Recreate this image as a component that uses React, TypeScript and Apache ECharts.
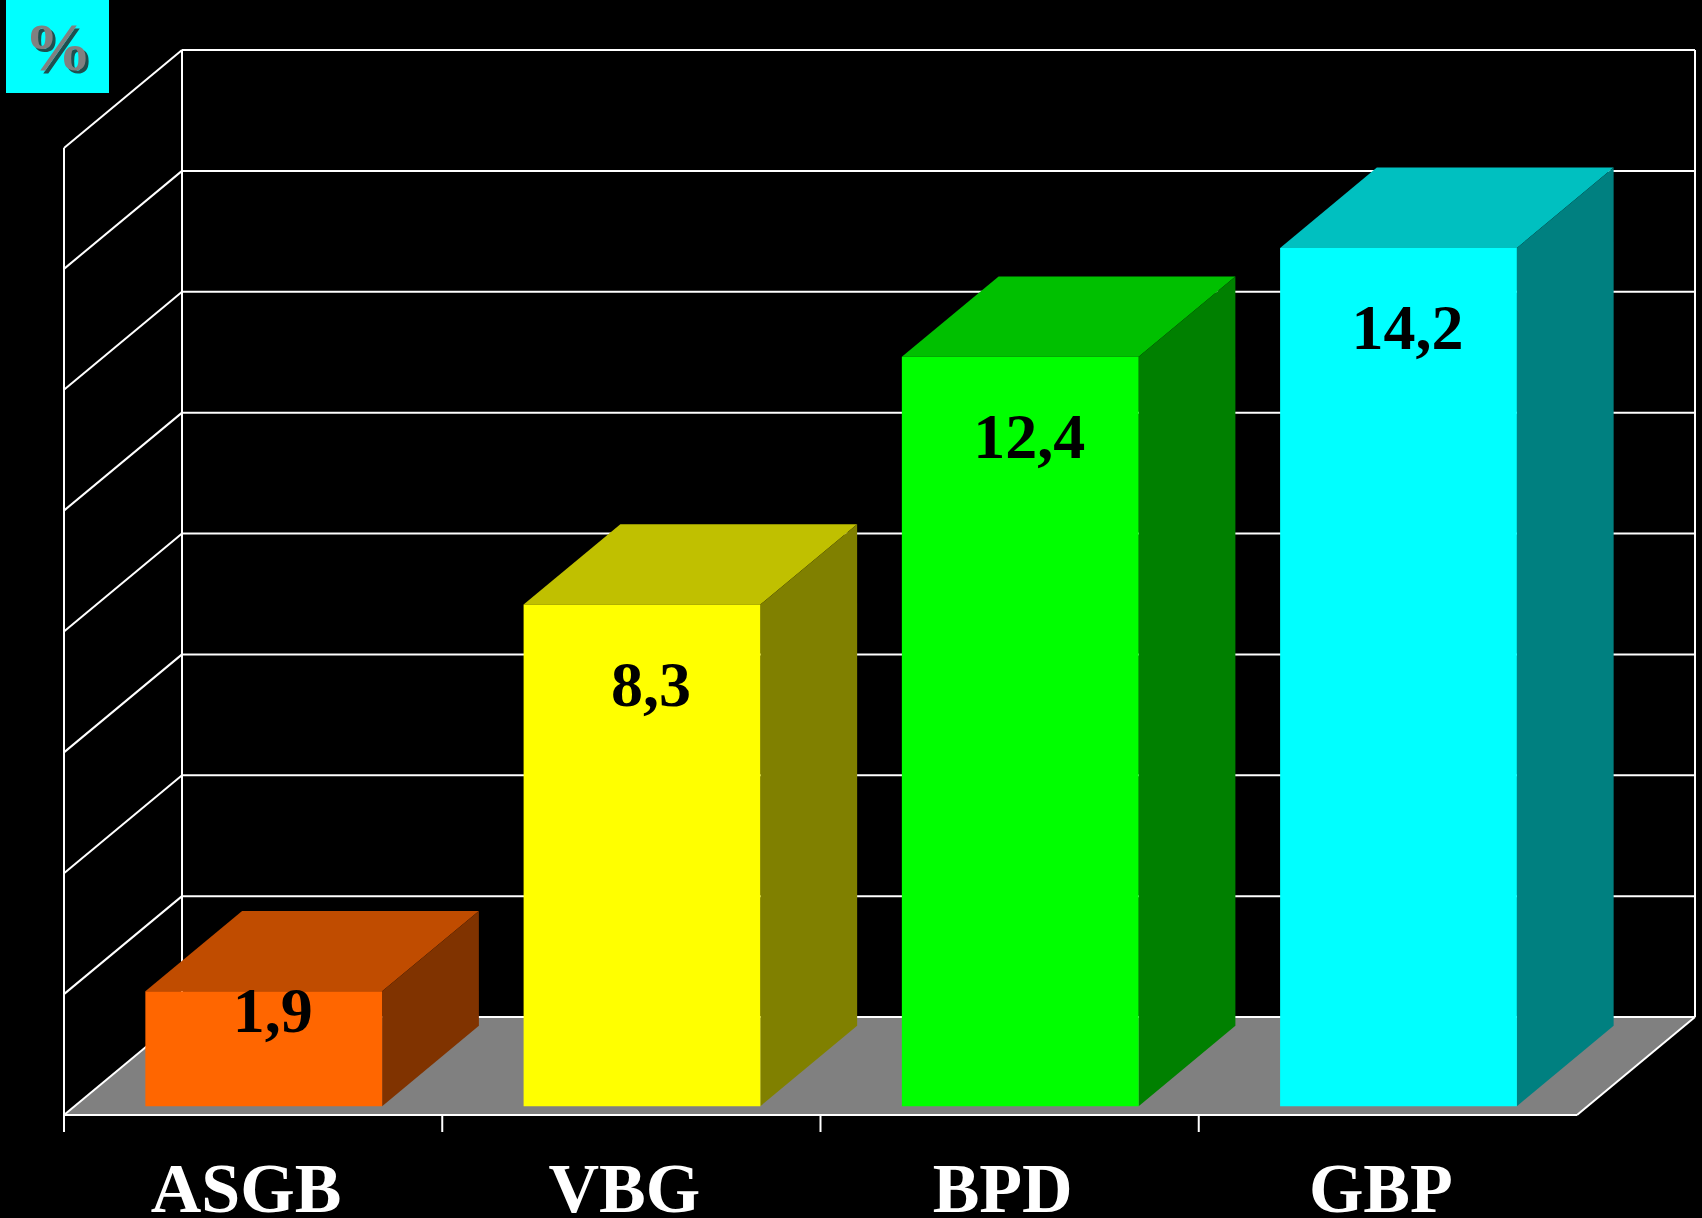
import React, { useEffect, useRef } from 'react';
import * as echarts from 'echarts';

// ---- data ----
const categories = ['ASGB', 'VBG', 'BPD', 'GBP'];
const values = [1.9, 8.3, 12.4, 14.2];
const gridValues = [0, 2, 4, 6, 8, 10, 12, 14, 16];
const frontColors = ['#FF6600', '#FFFF00', '#00FF00', '#00FFFF'];
const topColors = ['#C04C00', '#C0C000', '#00C000', '#00C0C0'];
const sideColors = ['#803300', '#808000', '#008000', '#008080'];
const unitLabel = '%';

// ---- styling constants ----
const DEPTH_X = 118;
const DEPTH_Y = -98;
const BAR_FRONT = 0.09;
const BAR_BACK = 0.91;
const BAR_WIDTH = 0.626;
const LINE = '#FFFFFF';
const LW = 2;
const SERIF = '"Liberation Serif", "Times New Roman", serif';

const fmt = (v: number) => String(v).replace('.', ',');

export default function App() {
  const ref = useRef<HTMLDivElement>(null);

  useEffect(() => {
    if (!ref.current) return;
    const chart = echarts.init(ref.current, undefined, { renderer: 'svg' });
    const lastCat = categories.length - 1;
    const yMax = gridValues[gridValues.length - 1];

    const frameBounds = (api: any) => {
      const band = api.size([1, 0])[0];
      const xl = api.coord([0, 0])[0] - band / 2;
      const xr = api.coord([lastCat, 0])[0] + band / 2;
      const y0 = api.coord([0, 0])[1];
      const yTop = api.coord([0, yMax])[1];
      return { band, xl, xr, y0, yTop };
    };
    const ln = (x1: number, y1: number, x2: number, y2: number) => ({
      type: 'line',
      shape: { x1, y1, x2, y2 },
      style: { stroke: LINE, lineWidth: LW },
    });

    const option: any = {
      animation: false,
      backgroundColor: '#000000',
      grid: { left: 64, right: 125, top: 148, bottom: 103, outerBoundsMode: 'none', containLabel: false },
      xAxis: {
        type: 'category',
        data: categories,
        boundaryGap: true,
        axisLine: { show: false },
        axisTick: { show: false },
        splitLine: { show: false },
        axisLabel: {
          interval: 0,
          color: '#FFFFFF',
          fontFamily: SERIF,
          fontWeight: 'bold',
          fontSize: 70,
          lineHeight: 50,
          margin: 48,
          padding: [0, 14, 0, 0],
        },
      },
      yAxis: {
        type: 'value',
        min: 0,
        max: yMax,
        interval: 2,
        show: false,
        splitLine: { show: false },
      },
      graphic: [
        {
          type: 'rect',
          x: 6,
          y: 0,
          shape: { width: 103, height: 93 },
          style: { fill: '#00FFFF' },
        },
        {
          type: 'text',
          x: 61,
          y: 50,
          style: {
            text: unitLabel,
            fill: '#1F4F4F',
            font: `bold 68px ${SERIF}`,
            align: 'center',
            verticalAlign: 'middle',
          },
        },
        {
          type: 'text',
          x: 58,
          y: 47,
          style: {
            text: unitLabel,
            fill: '#808080',
            font: `bold 68px ${SERIF}`,
            align: 'center',
            verticalAlign: 'middle',
          },
        },
      ],
      series: [
        {
          type: 'custom',
          name: 'floor',
          z: 1,
          silent: true,
          data: [[0, 0]],
          renderItem: (_p: any, api: any) => {
            const { xl, xr, y0 } = frameBounds(api);
            return {
              type: 'polygon',
              shape: {
                points: [
                  [xl, y0],
                  [xr, y0],
                  [xr + DEPTH_X, y0 + DEPTH_Y],
                  [xl + DEPTH_X, y0 + DEPTH_Y],
                ],
              },
              style: { fill: '#808080' },
            };
          },
        },
        {
          type: 'custom',
          name: 'walls',
          z: 2,
          silent: true,
          data: gridValues.map((v) => [0, v]),
          renderItem: (params: any, api: any) => {
            const { xl, xr, y0, yTop } = frameBounds(api);
            const y = api.coord([0, api.value(1)])[1];
            const children: any[] = [
              ln(xl + DEPTH_X, y + DEPTH_Y, xr + DEPTH_X, y + DEPTH_Y),
              ln(xl, y, xl + DEPTH_X, y + DEPTH_Y),
            ];
            if (params.dataIndex === 0) {
              children.push(
                ln(xl, yTop, xl, y0),
                ln(xl + DEPTH_X, yTop + DEPTH_Y, xl + DEPTH_X, y0 + DEPTH_Y),
                ln(xr + DEPTH_X, yTop + DEPTH_Y, xr + DEPTH_X, y0 + DEPTH_Y),
                ln(xl, y0, xr, y0),
                ln(xr, y0, xr + DEPTH_X, y0 + DEPTH_Y)
              );
            }
            return { type: 'group', children };
          },
        },
        {
          type: 'custom',
          name: 'ticks',
          z: 2,
          silent: true,
          data: categories.map((_c, i) => [i, 0]),
          renderItem: (_p: any, api: any) => {
            const band = api.size([1, 0])[0];
            const [cx, y0] = api.coord([api.value(0), 0]);
            const x = cx - band / 2;
            return ln(x, y0, x, y0 + 17);
          },
        },
        {
          type: 'custom',
          name: 'bars',
          z: 3,
          data: values.map((v, i) => [i, v]),
          renderItem: (params: any, api: any) => {
            const i = params.dataIndex;
            const band = api.size([1, 0])[0];
            const [cx, y0] = api.coord([api.value(0), 0]);
            const yv = api.coord([api.value(0), api.value(1)])[1];
            const half = (band * BAR_WIDTH) / 2;
            const fx = BAR_FRONT * DEPTH_X;
            const fy = BAR_FRONT * DEPTH_Y;
            const dx = (BAR_BACK - BAR_FRONT) * DEPTH_X;
            const dy = (BAR_BACK - BAR_FRONT) * DEPTH_Y;
            const left = cx - half + fx;
            const right = cx + half + fx;
            const top = yv + fy;
            const bottom = y0 + fy;
            const h = bottom - top;
            const labelY = top + Math.min(80, h * 0.17);
            return {
              type: 'group',
              children: [
                {
                  type: 'polygon',
                  shape: { points: [[left, top], [right, top], [right + dx, top + dy], [left + dx, top + dy]] },
                  style: { fill: topColors[i] },
                },
                {
                  type: 'polygon',
                  shape: { points: [[right, top], [right + dx, top + dy], [right + dx, bottom + dy], [right, bottom]] },
                  style: { fill: sideColors[i] },
                },
                {
                  type: 'rect',
                  shape: { x: left, y: top, width: right - left, height: h },
                  style: { fill: frontColors[i] },
                },
                {
                  type: 'text',
                  x: cx + fx + 9,
                  y: labelY,
                  style: {
                    text: fmt(api.value(1)),
                    fill: '#000000',
                    font: `bold 64px ${SERIF}`,
                    align: 'center',
                    verticalAlign: 'middle',
                  },
                },
              ],
            };
          },
        },
      ],
    };

    chart.setOption(option);
    return () => chart.dispose();
  }, []);

  return (
    <div
      ref={ref}
      style={{ position: 'fixed', left: 0, top: 0, width: 1702, height: 1218, background: '#000' }}
    />
  );
}
